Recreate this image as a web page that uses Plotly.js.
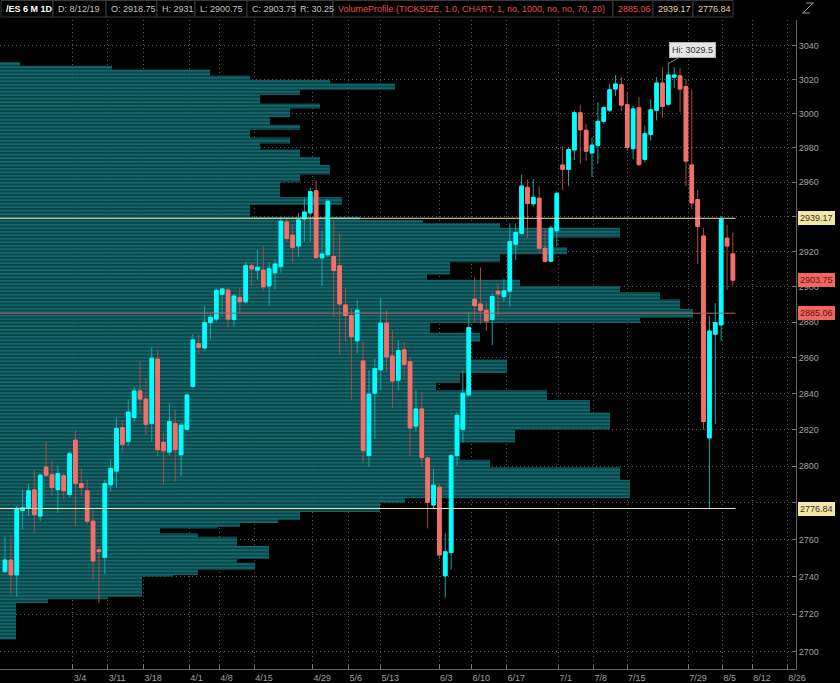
<!DOCTYPE html>
<html><head><meta charset="utf-8">
<script src="https://cdn.plot.ly/plotly-3.0.1.min.js"></script>
<style>html,body{margin:0;padding:0;background:#000;overflow:hidden}#chart{width:840px;height:683px}</style>
</head><body><div id="chart"></div>
<script>
// ---- daily bars (/ES) ----
const opens  = [2742.75,2749,2741,2775.75,2777,2787,2772.75,2799.5,2795.25,2787.25,
 2794.75,2784.5,2814.25,2790.5,2786.5,2770,2754.5,2750.5,2789.75,2797.25,
 2821.25,2813.5,2826.75,2841.5,2837,2823.5,2859.25,2813,2807.75,2823.5,
 2806.25,2820.25,2844,2868,2865.5,2879.75,2881.75,2895.75,2898.25,2881.5,
 2894,2891.5,2912,2909.5,2909.5,2900.5,2908,2911.5,2937,2929.5,
 2923.25,2938.75,2942.25,2955,2916.5,2918.25,2917.25,2912,2889.75,2883.75,
 2869.5,2858.25,2805.75,2840.25,2853.25,2879.5,2861,2847.5,2864.5,2857.75,
 2822,2831.5,2804.5,2778.75,2788.5,2740.5,2753,2805.75,2820.25,2839.25,
 2893,2890.25,2886.75,2881.5,2897.5,2894.5,2897.5,2924.25,2930.5,2957,
 2947.5,2950.75,2922,2914.5,2932,2970,2967.5,2978.75,3000.5,2990.25,
 2977,2981.5,2995.5,3002,3014.5,3017,3005.25,2979.5,3003.5,2973.25,
 2987.75,3002,3018,3005.5,3021.5,3022.25,3016,2970,2950,2929,
 2815.5,2873.25,2878.5,2927.75,2918.75];
const highs  = [2761.5,2762.5,2778.25,2787,2790.25,2797.5,2796,2813.5,2803,2800,
 2796,2808,2820,2798.75,2792.5,2776,2756.5,2792.5,2803.5,2826.75,
 2825.25,2836.5,2843.75,2858.25,2848.5,2865.75,2864.5,2818.5,2834.5,2831.25,
 2824.25,2840.5,2873.25,2873.25,2889,2884.5,2899.25,2899.5,2899.25,2896,
 2899.75,2914.25,2914,2921,2923,2914,2915.25,2940,2939.75,2935.5,
 2942.25,2950.75,2957,2961,2932,2950.25,2938.25,2930.25,2899.25,2887.75,
 2892.5,2869,2853.25,2859.5,2893.75,2886.75,2875.5,2870,2868.75,2860,
 2841.75,2840.75,2805.25,2798.75,2790.5,2763.5,2806.75,2829.75,2853,2885.5,
 2905.25,2911,2890.75,2896.5,2902,2904.25,2936.25,2936.25,2964.25,2961.5,
 2961.75,2957.5,2933.5,2935,2954.5,2981,2980.5,3002,3005.25,2994,
 2986,3006.5,3004.75,3017.5,3022.75,3021.5,3012.75,3004.75,3009.75,2993,
 3008.5,3021.5,3027.25,3029.5,3027.25,3026.75,3020.5,3014,2955.5,2933.5,
 2883.5,2890.75,2940.5,2935.5,2931];
const lows   = [2742,2730.25,2729.25,2765.75,2772.75,2763.75,2770,2794,2783.75,2774.5,
 2781.75,2783,2767.5,2783.75,2768.25,2738,2726,2741.5,2786,2788.25,
 2808,2810.75,2824,2828.5,2817.25,2813.5,2805.25,2789.75,2805.75,2791.5,
 2794.5,2819.75,2843.25,2862,2864.75,2870.5,2880.25,2884,2877,2878,
 2885,2890.75,2900.5,2904,2898,2889,2898.5,2908,2925.5,2913.75,
 2917,2925.75,2925.75,2915.75,2900.5,2917,2883,2862,2869,2836.25,
 2862.5,2802,2799.75,2815,2842,2852.5,2832,2842,2847.5,2805.25,
 2819,2799.75,2766,2777,2749.5,2728.75,2743.75,2800.25,2813,2838,
 2880,2879,2875.25,2867,2884,2891.5,2888.75,2915.25,2930.25,2927.75,
 2945.75,2919.5,2913.75,2914.25,2923,2955.5,2957.75,2973,2970.75,2972.5,
 2963,2970.75,2994,3001,3010.25,3001.5,2978.25,2973.5,2969.25,2971.5,
 2984.25,2996,2997.5,3004.75,3015,3001,2957.75,2944.5,2913,2820,
 2776.5,2823,2869.5,2898.25,2900.75];
const closes = [2749,2741,2777,2777.25,2786.5,2773.5,2795,2795,2788.25,2796,
 2786.5,2806.75,2790.5,2788.25,2770,2748.5,2753.5,2790.5,2798.75,2820.75,
 2812,2829.75,2841.5,2837,2823,2859.75,2809,2808.5,2824.5,2809,
 2822.5,2839.25,2870,2865.75,2879.75,2882.75,2898,2898.75,2881.75,2894.75,
 2891.5,2912,2910.25,2911,2900,2910.25,2913,2937.5,2927.5,2922.5,
 2938.25,2942.75,2954.5,2916.75,2918.75,2949,2909.25,2890.25,2883.75,2871.75,
 2886.75,2808.5,2839.75,2854,2879.5,2860.5,2847,2864,2856.25,2821,
 2831.5,2804.75,2780.25,2789.5,2751.75,2753.5,2805.75,2828,2840.25,2877,
 2889.25,2886.75,2880.75,2894.5,2896,2897.75,2925.75,2931,2957.75,2947.75,
 2951.25,2922,2914.5,2933.5,2953.5,2967.5,2979,3000.5,2990.5,2978,
 2981.5,2995.5,3003.5,3014,3017.5,3005,2980.25,3002.75,2970.25,2988.25,
 3002.25,3018,3004.25,3022.75,3022.75,3014.5,2972.25,2948,2934.5,2824.5,
 2875,2879.75,2938.75,2923.25,2903.75];

// ---- date axis labels ----
const dateTickLabels = ['3/4','3/11','3/18','4/1','4/8','4/15','4/29','5/6','5/13','6/3','6/10','6/17','7/1','7/8','7/15','7/29','8/5','8/12','8/26'];
const dateTickAt = [11.53,17.50,23.56,31.40,36.51,42.47,52.38,58.52,63.97,73.94,79.47,85.43,94.29,100.26,105.96,116.41,122.23,127.31,133.27];
const priceTicks = [2700,2720,2740,2760,2780,2800,2820,2840,2860,2880,2900,2920,2940,2960,2980,3000,3020,3040];
// labels hidden behind the price tags in the reference
const priceTickText = ['2700','2720','2740','2760','','2800','2820','2840','2860','2880','2900','2920','','2960','2980','3000','3020','3040'];

// ---- volume profile: step boundaries (price) and volume per step ----
const profLevels = [2706.5,2726,2728,2729.25,2740,2741,2743.75,2747.5,2749.5,2756.5,
 2761.5,2763.5,2766,2767,2769,2770.75,2775,2780,2782.5,2792.5,
 2799.5,2803.5,2813,2820,2829.5,2836.5,2842,2846,2851.5,2859,
 2869,2874,2879.5,2882.5,2887.5,2893,2897,2900.5,2904,2907,
 2914,2918.5,2922.5,2928,2933.75,2936.5,2938.25,2940,2947,2951.5,
 2960,2964.5,2970,2974.5,2979,2982.5,2986,2990.5,2993.5,2998,
 3003,3006,3011,3014,3017.75,3020,3022.5,3026,3028.25,3030.5];
const profVolume = [16,48,108,142,173,198,255,237,269,237,
 198,160,218,240,278,300,380,405,630,620,
 490,460,515,610,590,547,436,460,507,470,
 480,430,640,693,680,660,620,520,427,450,
 500,567,550,620,500,423,360,250,342,280,
 300,330,320,300,260,290,250,300,270,290,
 320,260,300,395,330,250,210,112,20];

const VAH = 2939.17, POC = 2885.06, VAL = 2776.84, LAST = 2903.75, HIGH = 3029.5;

// ---------------------------------------------------------------
const N = opens.length;
const idx = opens.map((_, i) => i);
const bodyHi = opens.map((o, i) => Math.max(o, closes[i]));
const bodyLo = opens.map((o, i) => Math.min(o, closes[i]));

const px = [0], py = [profLevels[0]];
for (let k = 0; k < profVolume.length; k++) { px.push(profVolume[k]); py.push(profLevels[k]); }
px.push(profVolume[profVolume.length - 1]); py.push(profLevels[profLevels.length - 1]);
px.push(0); py.push(profLevels[profLevels.length - 1]);

const FONT = 'Liberation Sans, Arial, sans-serif';
const UP = '#00ffff', DN = '#f2706a';

const profile = {
  type: 'scatter', mode: 'lines', x: px, y: py, xaxis: 'x', yaxis: 'y',
  line: {shape: 'vh', width: 0, color: '#0a5357'},
  fill: 'tozerox', fillcolor: 'rgba(10,83,87,0.9)',
  fillpattern: {shape: '-', size: 3.5, solidity: 0.3, fgcolor: '#1b7c80', bgcolor: 'rgba(10,80,84,0.88)'},
  hoverinfo: 'skip'
};
const wicks = {
  type: 'candlestick', x: idx, open: opens, high: highs, low: lows, close: closes,
  xaxis: 'x2', yaxis: 'y', whiskerwidth: 0,
  increasing: {line: {color: '#16a6a6', width: 1}, fillcolor: UP},
  decreasing: {line: {color: '#a84c46', width: 1}, fillcolor: DN},
  hoverinfo: 'skip'
};
const bodies = {
  type: 'candlestick', x: idx, open: opens, high: bodyHi, low: bodyLo, close: closes,
  xaxis: 'x2', yaxis: 'y', whiskerwidth: 0,
  increasing: {line: {color: UP, width: 1}, fillcolor: UP},
  decreasing: {line: {color: DN, width: 1}, fillcolor: DN},
  hoverinfo: 'skip'
};

const W = 796, H = 649, T = 20;
const pxX = v => v / W;
const pxY = v => (T + H - v) / H;

const shapes = [];
const lvl = (y, c) => ({type: 'line', xref: 'x2', yref: 'y', x0: -0.85, x1: N - 1 + 0.45, y0: y, y1: y, line: {color: c, width: 1}, layer: 'above'});
shapes.push(lvl(VAH, '#efe3b0'), lvl(POC, '#b0645e'), lvl(VAL, '#efe3b0'));

// header boxes
const hdr = [
  [1, 53, '/ES 6 M 1D', '#ffffff', true],
  [53, 106, 'D: 8/12/19', '#c4c4c4'],
  [106, 157, 'O: 2918.75', '#c4c4c4'],
  [157, 195, 'H: 2931', '#c4c4c4'],
  [195, 247, 'L: 2900.75', '#c4c4c4'],
  [247, 295, 'C: 2903.75', '#c4c4c4'],
  [295, 333, 'R: 30.25', '#c4c4c4'],
  [333, 613, 'VolumeProfile (TICKSIZE, 1.0, CHART, 1, no, 1000, no, no, 70, 20)', '#e8504c'],
  [613, 653, '2885.06', '#e8504c'],
  [653, 693, '2939.17', '#e2d6a2'],
  [693, 733, '2776.84', '#e2d6a2']
];
const annotations = [];
hdr.forEach(h => {
  shapes.push({type: 'rect', xref: 'paper', yref: 'paper', x0: pxX(h[0]), x1: pxX(h[1]), y0: pxY(17), y1: pxY(0.5), line: {color: '#3a3a3a', width: 1}, fillcolor: '#000'});
  annotations.push({xref: 'paper', yref: 'paper', x: pxX(h[0] + 3), y: pxY(8.5), xanchor: 'left', yanchor: 'middle', showarrow: false,
    text: h[4] ? '<b>' + h[2] + '</b>' : h[2], font: {family: FONT, size: 9, color: h[3]}});
});
// top-right icon
[[803, 13, 813, 3], [806, 3, 814, 3], [802, 13, 810, 13]].forEach(s => shapes.push({type: 'line', xref: 'paper', yref: 'paper',
  x0: pxX(s[0]), y0: pxY(s[1]), x1: pxX(s[2]), y1: pxY(s[3]), line: {color: '#9a9a9a', width: 1}}));

// right-axis price boxes
const tag = (y, bg, fg) => ({xref: 'paper', yref: 'y', x: 1, y: Math.log10(y), xanchor: 'left', yanchor: 'middle', xshift: 2,
  showarrow: false, text: y.toFixed(2), bgcolor: bg, bordercolor: bg, borderpad: 1, font: {family: FONT, size: 9, color: fg}});
annotations.push(tag(VAH, '#f4e6ab', '#3a3420'), tag(LAST, '#f0675f', '#6a1010'), tag(POC, '#f0675f', '#6a1010'), tag(VAL, '#f4e6ab', '#3a3420'));
// high bubble
annotations.push({xref: 'x2', yref: 'y', x: idx[highs.indexOf(HIGH)], y: Math.log10(HIGH), text: 'Hi: ' + HIGH, showarrow: true,
  arrowhead: 0, arrowcolor: '#8a8a8a', arrowwidth: 1, ax: 24, ay: -14, bgcolor: '#e6e6e6', bordercolor: '#b0b0b0', borderpad: 2,
  font: {family: FONT, size: 9, color: '#333'}});

const gridCol = '#5c5c5c';
const layout = {
  width: 840, height: 683, margin: {l: 0, r: 44, t: 20, b: 14},
  paper_bgcolor: '#000', plot_bgcolor: '#000', showlegend: false, font: {family: FONT, size: 9, color: '#a0a0a0'},
  boxgap: 0.12,
  xaxis: {range: [0, W], visible: false, fixedrange: true, rangeslider: {visible: false}},
  xaxis2: {overlaying: 'x', anchor: 'y', side: 'bottom', range: [-0.852, 134.75], tickmode: 'array', tickvals: dateTickAt, ticktext: dateTickLabels,
    ticks: 'inside', ticklen: 4, tickcolor: '#777', showgrid: true, gridcolor: gridCol, griddash: '1px,3px', gridwidth: 1,
    showline: true, linecolor: '#666', zeroline: false, ticklabelposition: 'outside right',
    tickfont: {family: FONT, size: 9, color: '#a0a0a0'}, rangeslider: {visible: false}},
  yaxis: {type: 'log', range: [3.42991, 3.48508], side: 'right', tickmode: 'array', tickvals: priceTicks, ticktext: priceTickText,
    ticks: 'inside', ticklen: 4, tickcolor: '#777', showgrid: true, gridcolor: gridCol, griddash: '1px,3px', gridwidth: 1,
    showline: true, linecolor: '#666', zeroline: false, tickfont: {family: FONT, size: 9, color: '#a0a0a0'}},
  shapes: shapes, annotations: annotations
};
Plotly.newPlot('chart', [profile, wicks, bodies], layout, {staticPlot: true, displayModeBar: false});
</script></body></html>
